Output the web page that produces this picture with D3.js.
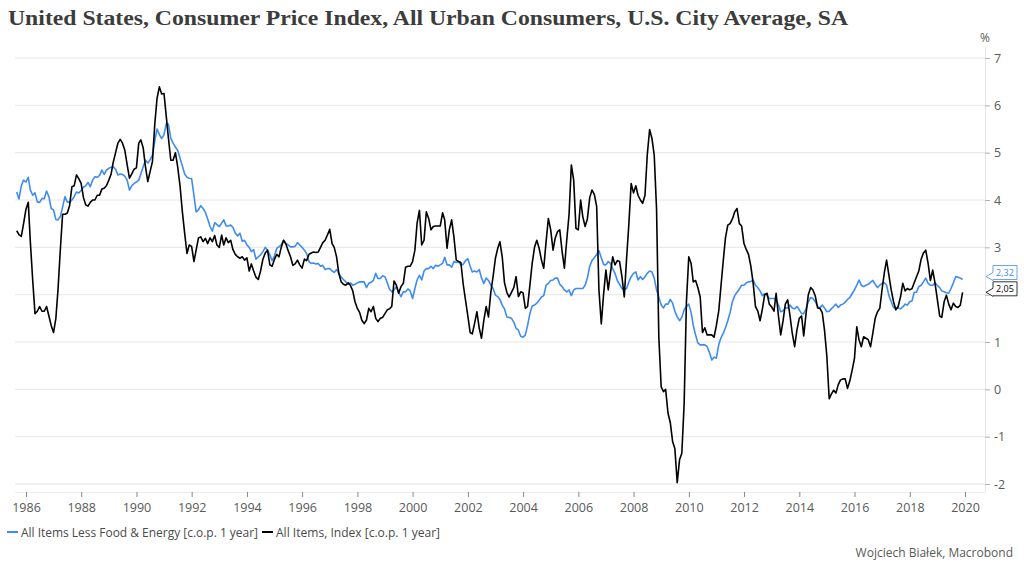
<!DOCTYPE html>
<html><head><meta charset="utf-8">
<script src="https://cdn.jsdelivr.net/npm/d3@7"></script>
<style>body{margin:0;background:#fff;} svg{display:block;}</style>
</head><body>
<svg id="chart" width="1024" height="572"></svg>
<script>
const titleText = "United States, Consumer Price Index, All Urban Consumers, U.S. City Average, SA";
const seriesNames = ["All Items Less Food & Energy [c.o.p. 1 year]", "All Items, Index [c.o.p. 1 year]"];
const sourceText = "Wojciech Białek, Macrobond";
const unitText = "%";
// monthly observations, first = Aug 1985, last = Nov 2019
const startYear = 1985, startMonth = 8;

const coreValues = [
/*1985*/ 4.17,4.02,4.3,4.42,4.38,
/*1986*/ 4.48,4.21,4.1,4.15,3.96,3.95,4.03,4.03,4.19,4.07,3.82,3.79,
/*1987*/ 3.59,3.58,3.65,3.85,4.07,3.96,3.95,4.0,4.07,4.17,4.15,4.2,
/*1988*/ 4.27,4.3,4.37,4.28,4.42,4.49,4.48,4.52,4.63,4.54,4.63,4.67,
/*1989*/ 4.69,4.7,4.65,4.53,4.55,4.54,4.5,4.42,4.21,4.3,4.35,4.38,
/*1990*/ 4.42,4.55,4.7,4.84,4.78,4.85,4.95,5.25,5.5,5.38,5.3,5.38,
/*1991*/ 5.62,5.6,5.3,5.2,5.12,5.05,4.88,4.72,4.55,4.48,4.46,4.45,
/*1992*/ 4.1,3.75,3.79,3.88,3.82,3.74,3.6,3.44,3.34,3.52,3.48,3.44,
/*1993*/ 3.51,3.58,3.45,3.45,3.47,3.42,3.3,3.24,3.3,3.13,3.15,3.05,
/*1994*/ 3.0,2.91,2.95,2.75,2.8,2.84,2.91,3.0,2.94,2.84,2.72,2.82,
/*1995*/ 2.98,3.01,3.05,3.15,3.08,3.05,3.01,3.01,3.02,3.1,3.05,3.0,
/*1996*/ 2.94,2.87,2.7,2.66,2.67,2.65,2.66,2.6,2.62,2.53,2.55,2.55,
/*1997*/ 2.5,2.47,2.53,2.45,2.37,2.32,2.27,2.22,2.25,2.2,2.22,2.25,
/*1998*/ 2.27,2.27,2.27,2.15,2.24,2.26,2.3,2.45,2.34,2.34,2.4,2.38,
/*1999*/ 2.25,2.12,2.06,2.1,2.17,2.05,1.96,2.06,2.06,2.12,2.08,1.92,
/*2000*/ 2.13,2.31,2.41,2.31,2.5,2.55,2.55,2.6,2.55,2.62,2.6,2.63,
/*2001*/ 2.66,2.79,2.63,2.63,2.58,2.7,2.68,2.69,2.63,2.64,2.72,2.76,
/*2002*/ 2.6,2.48,2.5,2.48,2.53,2.35,2.24,2.35,2.3,2.2,2.13,1.99,
/*2003*/ 1.96,1.9,1.78,1.7,1.53,1.52,1.5,1.42,1.29,1.25,1.12,1.1,
/*2004*/ 1.15,1.35,1.6,1.76,1.78,1.82,1.88,1.95,1.98,2.2,2.24,2.3,
/*2005*/ 2.31,2.35,2.35,2.22,2.17,2.1,2.06,2.1,1.98,2.1,2.13,2.13,
/*2006*/ 2.13,2.13,2.2,2.35,2.6,2.72,2.78,2.85,2.93,2.78,2.64,2.63,
/*2007*/ 2.7,2.66,2.55,2.45,2.3,2.22,2.13,2.1,2.13,2.27,2.38,2.45,
/*2008*/ 2.48,2.31,2.38,2.32,2.38,2.45,2.5,2.48,2.35,2.1,1.95,1.78,
/*2009*/ 1.72,1.8,1.8,1.9,1.82,1.65,1.53,1.45,1.52,1.68,1.75,1.8,
/*2010*/ 1.62,1.35,1.15,0.98,0.94,0.94,0.94,0.9,0.78,0.62,0.68,0.66,
/*2011*/ 0.94,1.08,1.18,1.3,1.45,1.62,1.85,1.98,2.05,2.12,2.2,2.2,
/*2012*/ 2.25,2.27,2.28,2.31,2.2,2.15,2.08,1.98,2.02,1.98,1.92,1.92,
/*2013*/ 1.92,1.89,1.78,1.64,1.66,1.72,1.72,1.78,1.72,1.7,1.75,1.68,
/*2014*/ 1.6,1.6,1.7,1.85,1.94,1.92,1.85,1.75,1.72,1.78,1.72,1.64,
/*2015*/ 1.65,1.7,1.75,1.8,1.73,1.78,1.8,1.84,1.9,1.94,2.02,2.1,
/*2016*/ 2.2,2.31,2.2,2.17,2.2,2.22,2.26,2.3,2.22,2.15,2.2,2.24,
/*2017*/ 2.25,2.2,1.98,1.85,1.73,1.71,1.72,1.7,1.74,1.8,1.78,1.85,
/*2018*/ 1.87,2.05,2.05,2.17,2.2,2.27,2.35,2.24,2.2,2.2,2.25,2.2,
/*2019*/ 2.15,2.08,2.06,2.04,2.03,2.13,2.25,2.38,2.37,2.35,2.32
];

const allItemsValues = [
/*1985*/ 3.35,3.27,3.23,3.5,3.8,
/*1986*/ 3.95,3.1,2.3,1.6,1.65,1.75,1.65,1.65,1.75,1.55,1.35,1.2,
/*1987*/ 1.5,2.1,2.95,3.7,3.7,3.72,3.88,4.28,4.3,4.53,4.45,4.35,
/*1988*/ 4.05,3.9,3.87,3.95,4.0,4.0,4.1,4.1,4.23,4.25,4.3,4.42,
/*1989*/ 4.55,4.8,5.0,5.2,5.28,5.2,5.05,4.74,4.46,4.55,4.65,4.68,
/*1990*/ 5.2,5.27,5.1,4.7,4.39,4.6,4.81,5.6,6.15,6.39,6.24,6.25,
/*1991*/ 5.75,5.3,4.84,4.84,5.0,4.7,4.3,3.75,3.3,2.87,3.05,3.02,
/*1992*/ 2.7,2.94,3.2,3.22,3.12,3.19,3.08,3.2,3.12,3.25,3.05,3.0,
/*1993*/ 3.26,3.05,3.2,3.1,3.15,2.95,2.85,2.8,2.77,2.8,2.73,2.78,
/*1994*/ 2.5,2.65,2.5,2.37,2.32,2.5,2.75,2.88,2.94,2.63,2.6,2.75,
/*1995*/ 2.85,2.8,3.0,3.15,3.07,2.93,2.8,2.62,2.65,2.73,2.63,2.56,
/*1996*/ 2.75,2.72,2.85,2.88,2.9,2.89,2.9,3.0,3.1,3.15,3.26,3.38,
/*1997*/ 3.08,3.0,2.8,2.45,2.27,2.22,2.2,2.25,2.2,2.08,1.85,1.71,
/*1998*/ 1.62,1.46,1.39,1.46,1.71,1.64,1.75,1.5,1.43,1.5,1.52,1.6,
/*1999*/ 1.68,1.7,1.75,2.29,2.2,2.03,2.17,2.24,2.58,2.6,2.6,2.7,
/*2000*/ 2.94,3.51,3.78,3.05,3.15,3.75,3.61,3.37,3.44,3.45,3.45,3.45,
/*2001*/ 3.73,3.58,2.98,3.37,3.58,3.22,2.73,2.7,2.68,2.22,1.89,1.55,
/*2002*/ 1.2,1.17,1.4,1.64,1.29,1.08,1.46,1.75,1.53,2.05,2.38,2.77,
/*2003*/ 2.98,3.12,2.8,2.25,2.05,1.95,2.05,2.15,2.38,1.96,2.06,2.04,
/*2004*/ 1.71,1.75,2.2,2.66,3.0,3.15,2.98,2.73,2.56,3.12,3.61,3.37,
/*2005*/ 2.94,3.19,3.33,3.37,2.91,2.56,3.15,3.7,4.74,4.42,3.4,3.37,
/*2006*/ 4.0,3.65,3.44,3.6,4.05,4.21,4.12,3.86,2.1,1.38,2.0,2.52,
/*2007*/ 2.1,2.45,2.8,2.63,2.72,2.7,2.38,1.95,2.75,3.5,4.35,4.15,
/*2008*/ 4.3,4.1,4.0,3.93,4.1,4.95,5.49,5.3,4.95,3.8,1.1,0.05,
/*2009*/ -0.05,0.0,-0.5,-0.7,-1.1,-1.25,-1.97,-1.49,-1.35,-0.3,1.85,2.8,
/*2010*/ 2.66,2.27,2.3,2.15,1.95,1.2,1.3,1.15,1.15,1.15,1.1,1.35,
/*2011*/ 1.65,2.15,2.7,3.2,3.47,3.5,3.6,3.75,3.82,3.5,3.45,3.08,
/*2012*/ 2.95,2.85,2.6,2.25,1.75,1.66,1.45,1.7,2.0,2.03,1.8,1.74,
/*2013*/ 1.65,2.03,1.55,1.15,1.45,1.8,1.89,1.55,1.18,0.9,1.25,1.5,
/*2014*/ 1.55,1.13,1.6,2.0,2.15,2.1,1.97,1.72,1.71,1.62,1.25,0.7,
/*2015*/ -0.2,-0.1,-0.02,-0.08,0.1,0.2,0.22,0.22,0.02,0.18,0.4,0.65,
/*2016*/ 1.32,1.05,0.9,1.11,1.08,1.05,0.9,1.2,1.5,1.64,1.71,2.12,
/*2017*/ 2.48,2.73,2.41,2.1,1.85,1.68,1.75,1.95,2.24,2.08,2.13,2.1,
/*2018*/ 2.13,2.25,2.38,2.5,2.75,2.88,2.94,2.66,2.3,2.52,2.25,1.9,
/*2019*/ 1.55,1.52,1.85,1.99,1.8,1.68,1.82,1.75,1.73,1.78,2.05
];

const yTickValues = [-2,-1,0,1,2,3,4,5,6,7];
const xTickYears = d3.range(1986, 2021, 2);
const seriesColors = ["#3f8cf0", "#000000"];

const svg = d3.select("#chart");
const x = d3.scaleUtc()
  .domain([new Date(Date.UTC(1986,0,1)), new Date(Date.UTC(2020,0,1))])
  .range([26, 965]);
const y = d3.scaleLinear().domain([-2, 7]).range([484, 58]);
const dateOf = i => new Date(Date.UTC(startYear, startMonth - 1 + i + 1, 0));

const plotLeft = 15, plotRight = 985, plotTop = 48, plotBottom = 492;
const textColor = "#595959";
const uiFont = "'Open Sans', 'Noto Sans', sans-serif";

// last-value callouts layout (computed first so covered tick labels can be hidden)
const fmt = v => d3.format(".2f")(v).replace(".", ",");
const lastCore = coreValues[coreValues.length - 1];
const lastAll = allItemsValues[allItemsValues.length - 1];
const callouts = [
  {v: lastCore, color: seriesColors[0], shift: -7},
  {v: lastAll, color: seriesColors[1], shift: -3.5}
].map(c => {
  const vy = y(c.v), cy = vy + c.shift;
  return Object.assign(c, {vy, cy, top: cy - 7, bot: cy + 7});
});
const coveredByCallout = t => callouts.some(c => y(t) > c.top - 5 && y(t) < c.bot + 5);

// title
svg.append("text").attr("x", 8).attr("y", 25)
  .attr("font-family", "'Liberation Serif', 'DejaVu Serif', serif")
  .attr("font-weight", "bold").attr("font-size", 22).attr("fill", "#3c3c3c")
  .attr("textLength", 840).attr("lengthAdjust", "spacingAndGlyphs")
  .text(titleText);

// gridlines
svg.append("g").selectAll("line").data(yTickValues).join("line")
  .attr("x1", plotLeft).attr("x2", plotRight)
  .attr("y1", d => y(d)).attr("y2", d => y(d))
  .attr("stroke", "#e6e6e6").attr("stroke-width", 1);

// frame lines (right and bottom)
svg.append("line").attr("x1", plotRight + 0.5).attr("x2", plotRight + 0.5)
  .attr("y1", plotTop).attr("y2", plotBottom).attr("stroke", "#e6e6e6");
svg.append("line").attr("x1", plotLeft).attr("x2", plotRight)
  .attr("y1", plotBottom + 0.5).attr("y2", plotBottom + 0.5).attr("stroke", "#ececec");

// right axis
const yAxis = svg.append("g").attr("transform", `translate(${plotRight},0)`)
  .call(d3.axisRight(y).tickValues(yTickValues).tickSize(5).tickPadding(4)
    .tickFormat(d => coveredByCallout(d) ? "" : String(d)));
yAxis.select(".domain").remove();
yAxis.selectAll(".tick line").attr("stroke", "#b0b0b0");
yAxis.selectAll(".tick text").attr("fill", textColor).attr("font-size", 12.5).attr("font-family", uiFont);

svg.append("text").attr("x", plotRight).attr("y", 42).attr("text-anchor", "middle")
  .attr("fill", textColor).attr("font-size", 12).attr("font-family", uiFont).text(unitText);

// bottom axis
const xAxis = svg.append("g").attr("transform", `translate(0,${plotBottom})`)
  .call(d3.axisBottom(x).tickValues(xTickYears.map(yv => new Date(Date.UTC(yv,0,1))))
    .tickSize(5).tickPadding(6).tickFormat(d3.utcFormat("%Y")));
xAxis.select(".domain").remove();
xAxis.selectAll(".tick line").attr("stroke", "#888");
xAxis.selectAll(".tick text").attr("fill", textColor).attr("font-size", 12.5).attr("font-family", uiFont);

// lines
const line = d3.line().x((d, i) => x(dateOf(i))).y(d => y(d)).curve(d3.curveLinear);
[coreValues, allItemsValues].forEach((vals, k) => {
  svg.append("path").datum(vals).attr("d", line)
    .attr("fill", "none").attr("stroke", seriesColors[k])
    .attr("stroke-width", 1.6).attr("stroke-linejoin", "round");
});

// callouts
callouts.forEach(c => {
  const tip = Math.max(c.top + 4, Math.min(c.bot - 3, c.vy));
  const x0 = 986, x1 = 993, x2 = 1017;
  const p = `M${x0},${tip} L${x1},${tip - 4} L${x1},${c.top} L${x2},${c.top} L${x2},${c.bot} L${x1},${c.bot} L${x1},${tip + 4} Z`;
  svg.append("path").attr("d", p).attr("fill", "#fff").attr("stroke", c.color).attr("stroke-width", 0.8);
  svg.append("text").attr("x", (x1 + x2) / 2).attr("y", c.cy + 3.2).attr("text-anchor", "middle")
    .attr("font-size", 9).attr("font-family", uiFont).attr("fill", c.color).text(fmt(c.v));
});

// legend
const legend = [
  {x: 7, tx: 21, w: 237, name: seriesNames[0], color: seriesColors[0]},
  {x: 262, tx: 276, w: 164, name: seriesNames[1], color: seriesColors[1]}
];
legend.forEach(l => {
  svg.append("line").attr("x1", l.x).attr("x2", l.x + 11).attr("y1", 532).attr("y2", 532)
    .attr("stroke", l.color).attr("stroke-width", 2);
  svg.append("text").attr("x", l.tx).attr("y", 536.5).attr("fill", "#4a4a4a")
    .attr("font-size", 12).attr("font-family", uiFont)
    .attr("textLength", l.w).attr("lengthAdjust", "spacingAndGlyphs").text(l.name);
});

// source
svg.append("text").attr("x", 1013).attr("y", 556.5).attr("text-anchor", "end")
  .attr("fill", textColor).attr("font-size", 12).attr("font-family", uiFont)
  .text(sourceText);
</script>
</body></html>
